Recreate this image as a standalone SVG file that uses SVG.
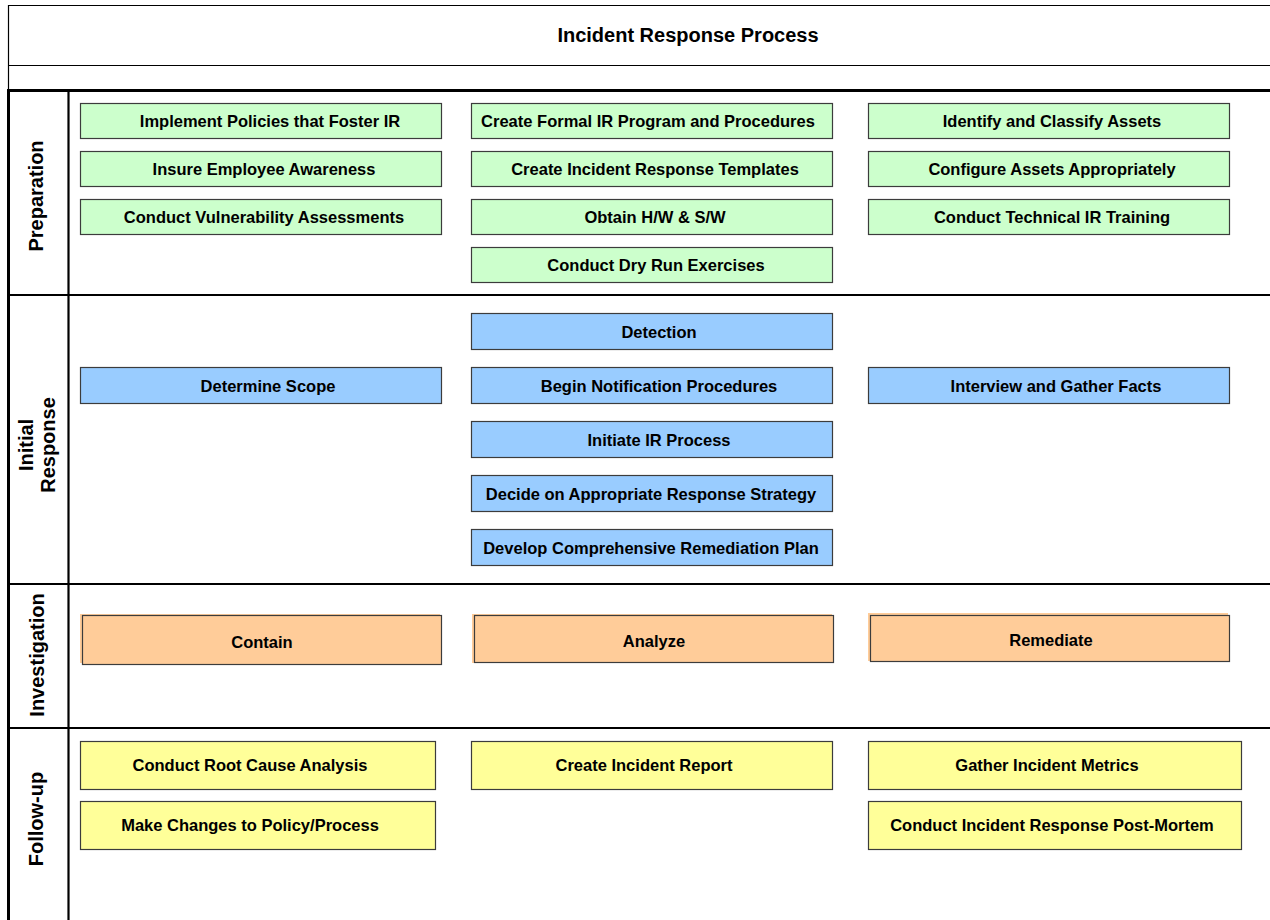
<svg xmlns="http://www.w3.org/2000/svg" width="1270" height="920" viewBox="0 0 1270 920">
  <style>
    .frame { stroke: #000; fill: none; }
    .thin { stroke-width: 1.2; }
    .lane { stroke-width: 2.2; }
    .heavy { stroke-width: 3; }
    .box { stroke: #3c3c3c; stroke-width: 1.2; }
    .prep { fill: #ccffcc; }
    .init { fill: #99ccff; }
    .inv { fill: #ffcc99; }
    .fol { fill: #ffff99; }
    .lbl { font-family: "Liberation Sans", Arial, sans-serif; font-weight: bold; font-size: 16.5px; fill: #000; text-anchor: middle; }
    .lanelbl { font-family: "Liberation Sans", Arial, sans-serif; font-weight: bold; font-size: 20px; fill: #000; text-anchor: middle; }
    .title { font-family: "Liberation Sans", Arial, sans-serif; font-weight: bold; font-size: 20px; fill: #000; text-anchor: middle; }
  </style>
  <rect width="1270" height="920" fill="#fff"/>

  <!-- title block -->
  <g id="title">
    <line class="frame thin" x1="8" y1="5.5" x2="1270" y2="5.5"/>
    <line class="frame thin" x1="8.5" y1="5" x2="8.5" y2="90"/>
    <line class="frame thin" x1="8" y1="65.5" x2="1270" y2="65.5"/>
    <text class="title" x="688" y="42">Incident Response Process</text>
  </g>

  <!-- pool and lane grid -->
  <g id="lanes">
    <line class="frame heavy" x1="7" y1="90.5" x2="1270" y2="90.5"/>
    <line class="frame heavy" x1="8.5" y1="89" x2="8.5" y2="920"/>
    <line class="frame lane" x1="68.5" y1="90" x2="68.5" y2="920"/>
    <line class="frame lane" x1="8" y1="295" x2="1270" y2="295"/>
    <line class="frame lane" x1="8" y1="584" x2="1270" y2="584"/>
    <line class="frame lane" x1="8" y1="728" x2="1270" y2="728"/>
    <text class="lanelbl" transform="translate(43,196) rotate(-90)">Preparation</text>
    <text class="lanelbl" transform="translate(33,445) rotate(-90)">Initial</text>
    <text class="lanelbl" transform="translate(55,445) rotate(-90)">Response</text>
    <text class="lanelbl" transform="translate(44,655) rotate(-90)">Investigation</text>
    <text class="lanelbl" transform="translate(43,819) rotate(-90)">Follow-up</text>
  </g>

  <!-- Preparation -->
  <g id="prep-policies"><rect class="box prep" x="80.5" y="103.5" width="361" height="35"/><text class="lbl" x="270" y="127">Implement Policies that Foster IR</text></g>
  <g id="prep-awareness"><rect class="box prep" x="80.5" y="151.5" width="361" height="35"/><text class="lbl" x="264" y="175">Insure Employee Awareness</text></g>
  <g id="prep-vuln"><rect class="box prep" x="80.5" y="199.5" width="361" height="35"/><text class="lbl" x="264" y="223">Conduct Vulnerability Assessments</text></g>
  <g id="prep-program"><rect class="box prep" x="471.5" y="103.5" width="361" height="35"/><text class="lbl" x="648" y="127">Create Formal IR Program and Procedures</text></g>
  <g id="prep-templates"><rect class="box prep" x="471.5" y="151.5" width="361" height="35"/><text class="lbl" x="655" y="175">Create Incident Response Templates</text></g>
  <g id="prep-hwsw"><rect class="box prep" x="471.5" y="199.5" width="361" height="35"/><text class="lbl" x="655" y="223">Obtain H/W &amp; S/W</text></g>
  <g id="prep-dryrun"><rect class="box prep" x="471.5" y="247.5" width="361" height="35"/><text class="lbl" x="656" y="271">Conduct Dry Run Exercises</text></g>
  <g id="prep-assets"><rect class="box prep" x="868.5" y="103.5" width="361" height="35"/><text class="lbl" x="1052" y="127">Identify and Classify Assets</text></g>
  <g id="prep-config"><rect class="box prep" x="868.5" y="151.5" width="361" height="35"/><text class="lbl" x="1052" y="175">Configure Assets Appropriately</text></g>
  <g id="prep-training"><rect class="box prep" x="868.5" y="199.5" width="361" height="35"/><text class="lbl" x="1052" y="223">Conduct Technical IR Training</text></g>

  <!-- Initial Response -->
  <g id="init-detection"><rect class="box init" x="471.5" y="313.5" width="361" height="36"/><text class="lbl" x="659" y="338">Detection</text></g>
  <g id="init-scope"><rect class="box init" x="80.5" y="367.5" width="361" height="36"/><text class="lbl" x="268" y="392">Determine Scope</text></g>
  <g id="init-notify"><rect class="box init" x="471.5" y="367.5" width="361" height="36"/><text class="lbl" x="659" y="392">Begin Notification Procedures</text></g>
  <g id="init-interview"><rect class="box init" x="868.5" y="367.5" width="361" height="36"/><text class="lbl" x="1056" y="392">Interview and Gather Facts</text></g>
  <g id="init-process"><rect class="box init" x="471.5" y="421.5" width="361" height="36"/><text class="lbl" x="659" y="446">Initiate IR Process</text></g>
  <g id="init-strategy"><rect class="box init" x="471.5" y="475.5" width="361" height="36"/><text class="lbl" x="651" y="500">Decide on Appropriate Response Strategy</text></g>
  <g id="init-plan"><rect class="box init" x="471.5" y="529.5" width="361" height="36"/><text class="lbl" x="651" y="554">Develop Comprehensive Remediation Plan</text></g>

  <!-- Investigation -->
  <g id="inv-contain"><rect class="inv" x="80" y="614" width="360" height="49"/><rect class="box inv" x="82.5" y="615.5" width="359" height="49"/><text class="lbl" x="262" y="648">Contain</text></g>
  <g id="inv-analyze"><rect class="inv" x="472" y="614" width="360" height="49"/><rect class="box inv" x="474.5" y="615.5" width="359" height="47"/><text class="lbl" x="654" y="647">Analyze</text></g>
  <g id="inv-remediate"><rect class="inv" x="868" y="613" width="360" height="48"/><rect class="box inv" x="870.5" y="615.5" width="359" height="46"/><text class="lbl" x="1051" y="646">Remediate</text></g>

  <!-- Follow-up -->
  <g id="fol-rootcause"><rect class="box fol" x="80.5" y="741.5" width="355" height="48"/><text class="lbl" x="250" y="771">Conduct Root Cause Analysis</text></g>
  <g id="fol-changes"><rect class="box fol" x="80.5" y="801.5" width="355" height="48"/><text class="lbl" x="250" y="831">Make Changes to Policy/Process</text></g>
  <g id="fol-report"><rect class="box fol" x="471.5" y="741.5" width="361" height="48"/><text class="lbl" x="644" y="771">Create Incident Report</text></g>
  <g id="fol-metrics"><rect class="box fol" x="868.5" y="741.5" width="373" height="48"/><text class="lbl" x="1047" y="771">Gather Incident Metrics</text></g>
  <g id="fol-postmortem"><rect class="box fol" x="868.5" y="801.5" width="373" height="48"/><text class="lbl" x="1052" y="831">Conduct Incident Response Post-Mortem</text></g>

  <!-- no connectors are drawn between the activities -->
  <g id="connectors"/>
</svg>
